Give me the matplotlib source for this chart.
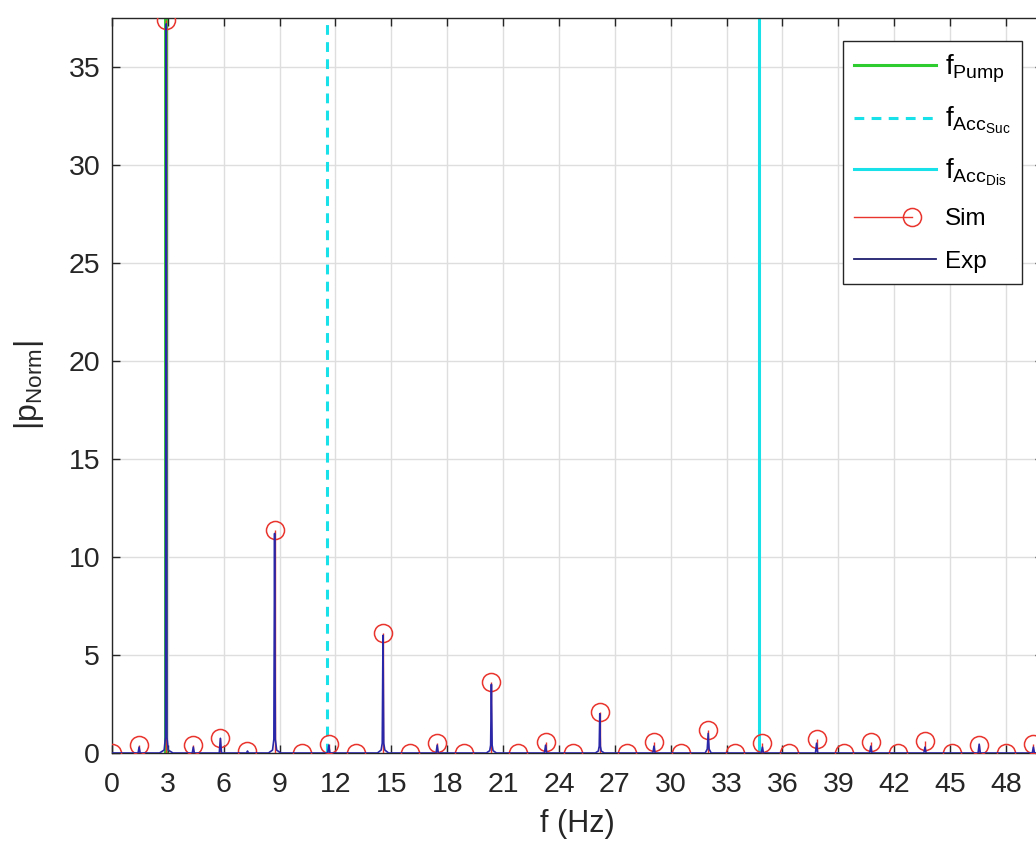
import numpy as np
import matplotlib
matplotlib.use("Agg")
import matplotlib.pyplot as plt
from matplotlib.lines import Line2D
from matplotlib.legend_handler import HandlerLine2D

plt.rcParams['font.family'] = ['Liberation Sans', 'DejaVu Sans']
plt.rcParams['mathtext.fontset'] = 'custom'
plt.rcParams['mathtext.rm'] = 'Liberation Sans'
plt.rcParams['mathtext.it'] = 'Liberation Sans:italic'

# characteristic frequencies (Hz)
f_pump = 2.91
f_acc_suc = 11.53
f_acc_dis = 34.74

# simulated spectrum, one value every half pump frequency
sim_f = [0.0, 1.455, 2.91, 4.365, 5.82, 7.275, 8.73, 10.185, 11.64, 13.095,
         14.55, 16.005, 17.46, 18.915, 20.37, 21.825, 23.28, 24.735, 26.19, 27.645,
         29.10, 30.555, 32.01, 33.465, 34.92, 36.375, 37.83, 39.285, 40.74, 42.195,
         43.65, 45.105, 46.56, 48.015, 49.47]
sim_p = [0.0, 0.4, 37.4, 0.4, 0.78, 0.1, 11.4, 0.02, 0.46, 0.0,
         6.1, 0.0, 0.5, 0.0, 3.6, 0.0, 0.58, 0.0, 2.1, 0.0,
         0.56, 0.0, 1.17, 0.0, 0.5, 0.0, 0.72, 0.0, 0.58, 0.0,
         0.6, 0.0, 0.4, 0.0, 0.45]

# measured spectrum
exp_f = [0.0, 1.40, 1.455, 1.51,
         2.55, 2.80, 2.87, 2.91, 2.95, 3.02, 3.27,
         4.31, 4.365, 4.42,
         5.76, 5.82, 5.88,
         7.22, 7.275, 7.33,
         8.40, 8.62, 8.69, 8.73, 8.77, 8.84, 9.06,
         11.58, 11.64, 11.70,
         14.25, 14.45, 14.51, 14.55, 14.59, 14.65, 14.85,
         17.40, 17.46, 17.52,
         20.10, 20.28, 20.33, 20.37, 20.41, 20.46, 20.64,
         23.22, 23.28, 23.34,
         25.95, 26.11, 26.16, 26.19, 26.22, 26.27, 26.43,
         29.04, 29.10, 29.16,
         31.85, 31.96, 32.01, 32.06, 32.17,
         34.86, 34.92, 34.98,
         37.77, 37.83, 37.89,
         40.68, 40.74, 40.80,
         43.59, 43.65, 43.71,
         46.50, 46.56, 46.62,
         49.41, 49.47, 49.53, 50.0]
exp_p = [0.0, 0.0, 0.3, 0.0,
         0.0, 0.15, 0.8, 37.2, 0.8, 0.15, 0.0,
         0.0, 0.3, 0.0,
         0.0, 0.75, 0.0,
         0.0, 0.1, 0.0,
         0.0, 0.15, 0.7, 11.2, 0.7, 0.15, 0.0,
         0.0, 0.4, 0.0,
         0.0, 0.15, 0.5, 6.0, 0.5, 0.15, 0.0,
         0.0, 0.4, 0.0,
         0.0, 0.12, 0.4, 3.5, 0.4, 0.12, 0.0,
         0.0, 0.4, 0.0,
         0.0, 0.1, 0.35, 2.0, 0.35, 0.1, 0.0,
         0.0, 0.35, 0.0,
         0.0, 0.2, 1.0, 0.2, 0.0,
         0.0, 0.3, 0.0,
         0.0, 0.5, 0.0,
         0.0, 0.35, 0.0,
         0.0, 0.3, 0.0,
         0.0, 0.45, 0.0,
         0.0, 0.3, 0.0, 0.0]

x_ticks = list(range(0, 49, 3))
y_ticks = list(range(0, 36, 5))

c_green = '#2fcc2f'
c_cyan = '#19e1ea'
c_red = '#e8342c'
c_exp = '#2a28a8'
c_axis = '#262626'


class StemLegendHandler(HandlerLine2D):
    # line with the marker sitting near its right end, like a stem icon
    def create_artists(self, legend, orig_handle, xdescent, ydescent,
                       width, height, fontsize, trans):
        y = height / 2 - ydescent
        x0 = -xdescent
        x1 = -xdescent + 0.70 * width
        line = Line2D([x0, x1], [y, y], color=orig_handle.get_color(),
                      lw=orig_handle.get_linewidth(), transform=trans)
        mark = Line2D([x1], [y], marker='o', ms=orig_handle.get_markersize(),
                      mfc='none', mec=orig_handle.get_markeredgecolor(),
                      mew=orig_handle.get_markeredgewidth(), ls='none',
                      transform=trans)
        return [line, mark]


fig = plt.figure(figsize=(10.36, 8.48), dpi=100)
ax = fig.add_axes([112 / 1036, 95 / 848, 931.25 / 1036, 735 / 848])

ax.axvline(f_pump, color=c_green, lw=2.8, zorder=2)
ax.axvline(f_acc_suc, color=c_cyan, lw=2.2, ls=(0, (3.2, 2.4)), zorder=2)
ax.axvline(f_acc_dis, color=c_cyan, lw=2.2, zorder=2)

ml, sl, bl = ax.stem(sim_f, sim_p, linefmt='-', markerfmt='o', basefmt=' ')
plt.setp(sl, color=c_red, lw=1.0, zorder=3)
plt.setp(ml, mfc='none', mec=c_red, ms=13, mew=1.1, zorder=4)

ax.plot(exp_f, exp_p, color=c_exp, lw=1.2, zorder=5)

ax.set_xlim(0, 50)
ax.set_ylim(0, 37.5)
ax.set_xticks(x_ticks)
ax.set_yticks(y_ticks)
ax.grid(True, color='#dedede', lw=1.0)
ax.set_axisbelow(True)
ax.tick_params(direction='in', length=6, width=1, top=True, right=True,
               labelsize=20.5, colors=c_axis)
ax.tick_params(axis='x', pad=13.5)
ax.tick_params(axis='y', pad=8.5)
for sp in ax.spines.values():
    sp.set_color(c_axis)
    sp.set_linewidth(1.0)

ax.set_xlabel('f (Hz)', fontsize=22, color=c_axis, labelpad=8)
ax.set_ylabel(r'|p$_{\rm Norm}$|', fontsize=23, color=c_axis, labelpad=16)

h_pump = Line2D([], [], color=c_green, lw=2.2)
h_suc = Line2D([], [], color=c_cyan, lw=2.2, ls=(0, (3.2, 2.4)))
h_dis = Line2D([], [], color=c_cyan, lw=2.2)
h_sim = Line2D([], [], color=c_red, lw=1.0, marker='o', ms=13, mfc='none',
               mec=c_red, mew=1.1)
h_exp = Line2D([], [], color='#1f1f70', lw=1.3)
labels = [r'f$_{\rm Pump}$', r'f$_{{\rm Acc}_{\rm Suc}}$',
          r'f$_{{\rm Acc}_{\rm Dis}}$', 'Sim', 'Exp']
leg = ax.legend([h_pump, h_suc, h_dis, h_sim, h_exp], labels,
                loc='upper right', bbox_to_anchor=(1022 / 1036, 1 - 41 / 848),
                bbox_transform=fig.transFigure, borderaxespad=0,
                fontsize=18, handlelength=3.3, handletextpad=0.35,
                labelspacing=0.8, borderpad=0.45, fancybox=False,
                framealpha=1, edgecolor=c_axis,
                handler_map={h_sim: StemLegendHandler()})
leg.get_frame().set_linewidth(1.0)
for t in leg.get_texts()[:3]:
    t.set_fontsize(20)
for t in leg.get_texts()[3:]:
    t.set_fontsize(17.5)

fig.savefig('out.png', dpi=100)
